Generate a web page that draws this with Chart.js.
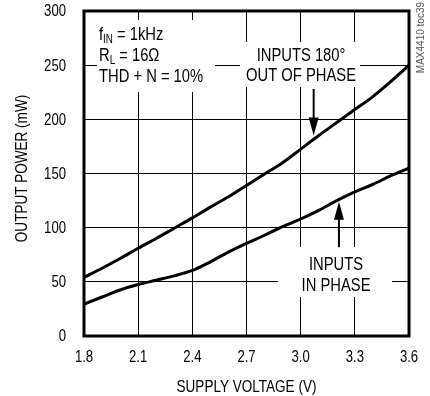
<!DOCTYPE html>
<html>
<head>
<meta charset="utf-8">
<script src="https://cdn.jsdelivr.net/npm/chart.js@4"></script>
<style>
  body{margin:0;background:#fff;}
  #wrap{width:430px;height:396px;position:relative;}
</style>
</head>
<body>
<div id="wrap"><canvas id="c"></canvas></div>
<script>
// data
const voltage    = [1.8,1.9,2.0,2.1,2.2,2.3,2.4,2.5,2.6,2.7,2.8,2.9,3.0,3.1,3.2,3.3,3.4,3.5,3.6];
const outOfPhase = [54,62.5,71.5,81,90,99.5,109,119,128.5,139,149.5,160,172.5,185,197,209,221,235,250];
const inPhase    = [29.5,36,42.5,47.5,51.5,55.5,60.5,68.5,77.5,85.5,93,101,108,116,125,133,140,148,155];
const xTicks = [1.8,2.1,2.4,2.7,3.0,3.3,3.6];
const yTicks = [0,50,100,150,200,250,300];

// no narrow font installed, so squeeze Liberation Sans by hand
const FONT = "'Liberation Sans',Arial,sans-serif";
const SX = 0.82;

// white label boxes [x1,x2,yTop,yBottom] in data units
const boxes = [
  [1.872,2.526,291.7,225.2],
  [2.664,3.329,271.4,229.8],
  [2.874,3.506,82.2,36]
];
// arrows [x, yStart, yTip]
const arrows = [
  [3.072,228,185],
  [3.212,82,124]
];

function pts(ys){ return voltage.map((v,i)=>({x:v,y:ys[i]})); }

function txt(ctx,s,x,y,size,align,base,rot){
  ctx.save();
  ctx.font=size+"px "+FONT;
  ctx.textAlign=align||'left';
  ctx.textBaseline=base||'alphabetic';
  ctx.translate(x,y);
  if(rot) ctx.rotate(rot);
  ctx.scale(SX,1);
  ctx.fillText(s,0,0);
  const w=ctx.measureText(s).width*SX;
  ctx.restore();
  return w;
}

function arrow(ctx,x,y0,y1){
  const dir = y1>y0 ? 1 : -1;
  ctx.lineWidth=2;
  ctx.beginPath(); ctx.moveTo(x,y0); ctx.lineTo(x,y1-dir*14); ctx.stroke();
  ctx.beginPath();
  ctx.moveTo(x,y1);
  ctx.lineTo(x-5,y1-dir*18);
  ctx.lineTo(x+5,y1-dir*18);
  ctx.closePath(); ctx.fill();
}

function subText(ctx,x,y,main,sub,rest){
  x+=txt(ctx,main,x,y,18);
  x+=txt(ctx,sub,x,y+3,12);
  txt(ctx,rest,x,y,18);
}

const notes = {
  id:'notes',
  beforeDatasetsDraw(chart){
    const {ctx,scales:{x,y}}=chart;
    ctx.save();
    ctx.fillStyle='#fff';
    boxes.forEach(b=>{
      const l=x.getPixelForValue(b[0]), r=x.getPixelForValue(b[1]);
      const t=y.getPixelForValue(b[2]), btm=y.getPixelForValue(b[3]);
      ctx.fillRect(l,t,r-l,btm-t);
    });
    ctx.restore();
  },
  afterDatasetsDraw(chart){
    const {ctx,chartArea:a,scales:{x,y}}=chart;
    ctx.save();
    ctx.fillStyle='#000'; ctx.strokeStyle='#000';

    // test conditions
    const lx=x.getPixelForValue(1.883);
    subText(ctx,lx,y.getPixelForValue(273.2),'f','IN',' = 1kHz');
    subText(ctx,lx,y.getPixelForValue(253.8),'R','L',' = 16Ω');
    txt(ctx,'THD + N = 10%',lx,y.getPixelForValue(234.5),18);

    txt(ctx,'INPUTS 180°',x.getPixelForValue(3.002),y.getPixelForValue(253.8),18,'center');
    txt(ctx,'OUT OF PHASE',x.getPixelForValue(3.002),y.getPixelForValue(235.4),18,'center');
    txt(ctx,'INPUTS',x.getPixelForValue(3.196),y.getPixelForValue(60.9),18,'center');
    txt(ctx,'IN PHASE',x.getPixelForValue(3.196),y.getPixelForValue(41.5),18,'center');

    arrows.forEach(r=>arrow(ctx,x.getPixelForValue(r[0]),y.getPixelForValue(r[1]),y.getPixelForValue(r[2])));

    // frame
    ctx.lineWidth=3;
    ctx.strokeRect(a.left,a.top,a.right-a.left,a.bottom-a.top);

    // side tag
    ctx.translate(a.right+12,a.top-9);
    ctx.rotate(-Math.PI/2);
    ctx.textAlign='right';
    ctx.textBaseline='middle';
    ctx.font="10px "+FONT;
    ctx.fillStyle='#555';
    ctx.fillText('MAX4410 toc39',0,0);
    ctx.restore();
  },
  afterDraw(chart){
    const {ctx,chartArea:a,scales:{x,y}}=chart;
    ctx.save();
    ctx.fillStyle='#000';
    yTicks.forEach(v=>txt(ctx,String(v),a.left-18,y.getPixelForValue(v)+1,16,'right','middle'));
    xTicks.forEach(v=>txt(ctx,v.toFixed(1),x.getPixelForValue(v),a.bottom+22,16,'center','middle'));
    txt(ctx,'SUPPLY VOLTAGE (V)',(a.left+a.right)/2,a.bottom+51,16.5,'center','middle');
    txt(ctx,'OUTPUT POWER (mW)',22,(a.top+a.bottom)/2-5,16.5,'center','middle',-Math.PI/2);
    ctx.restore();
  }
};

new Chart(document.getElementById('c'),{
  type:'line',
  data:{datasets:[
    {data:pts(outOfPhase),borderColor:'#000',borderWidth:3,pointRadius:0,cubicInterpolationMode:'monotone'},
    {data:pts(inPhase),borderColor:'#000',borderWidth:3,pointRadius:0,cubicInterpolationMode:'monotone'}
  ]},
  options:{
    responsive:true,
    maintainAspectRatio:false,
    animation:false,
    layout:{padding:{left:0,right:21,top:11,bottom:0}},
    plugins:{legend:{display:false},tooltip:{enabled:false}},
    scales:{
      x:{
        type:'linear',min:1.8,max:3.6,
        afterBuildTicks:s=>{s.ticks=xTicks.map(v=>({value:v}));},
        afterFit:s=>{s.height=60;},
        grid:{color:'#000',lineWidth:1,drawTicks:false},
        border:{display:false},
        ticks:{display:false}
      },
      y:{
        min:0,max:300,
        afterBuildTicks:s=>{s.ticks=yTicks.map(v=>({value:v}));},
        afterFit:s=>{s.width=84;},
        grid:{color:'#000',lineWidth:1,drawTicks:false},
        border:{display:false},
        ticks:{display:false}
      }
    }
  },
  plugins:[notes]
});
</script>
</body>
</html>
